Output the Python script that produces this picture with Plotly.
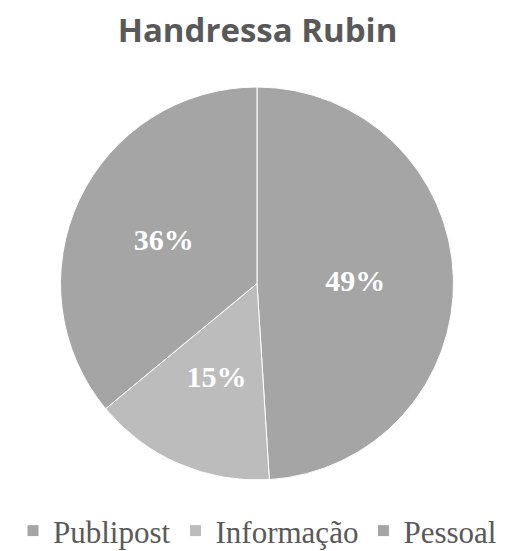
import plotly.graph_objects as go

categories = ["Publipost", "Informação", "Pessoal"]
values = [49, 15, 36]
colors = ["#a5a5a5", "#bcbcbc", "#a5a5a5"]

W, H = 512, 551
# pie geometry (figure pixels)
cx, cy, r = 249.0, 275.5, 196.5
r_small = 148.0

def dom(rad):
    return dict(x=[(cx - rad) / W, (cx + rad) / W], y=[1 - (cy + rad) / H, 1 - (cy - rad) / H])

label_font = dict(family="Liberation Serif", size=30, color="#ffffff", weight="bold")

main = go.Pie(
    labels=categories, values=values, sort=False,
    direction="clockwise", rotation=0,
    marker=dict(colors=colors, line=dict(color="#ffffff", width=1)),
    texttemplate=["%{percent:.0%}", "", "%{percent:.0%}"],
    textposition="inside", insidetextorientation="horizontal",
    textfont=label_font,
    domain=dom(r),
    hoverinfo="label+percent",
)
# same data, transparent; only carries the small-slice label closer to centre
overlay = go.Pie(
    labels=categories, values=values, sort=False,
    direction="clockwise", rotation=0,
    marker=dict(colors=["rgba(0,0,0,0)"] * 3, line=dict(width=0)),
    texttemplate=["", "%{percent:.0%}", ""],
    textposition="inside", insidetextorientation="horizontal",
    textfont=label_font,
    domain=dom(r_small),
    hoverinfo="skip", showlegend=False,
)

fig = go.Figure([main, overlay])

fig.update_layout(
    width=W, height=H,
    margin=dict(l=0, r=0, t=0, b=0, autoexpand=False),
    paper_bgcolor="#ffffff",
    title=dict(text="<b>Handressa Rubin</b>", x=249.5 / W, xanchor="center",
               y=1 - 22.5 / H, yanchor="middle",
               font=dict(family="Open Sans", size=33, color="#595959")),
    showlegend=True,
    legend=dict(orientation="h", x=249.5 / W, xanchor="center", y=1 - 523 / H, yanchor="middle",
                font=dict(family="Liberation Serif", size=31, color="#595959"),
                itemwidth=30, traceorder="normal"),
)

fig.write_html("out.html")
